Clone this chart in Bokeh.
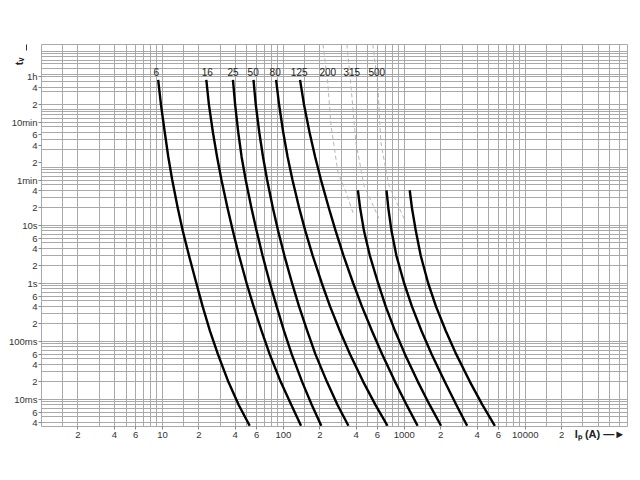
import numpy as np
from bokeh.plotting import figure
from bokeh.models import (FixedTicker, Arrow, NormalHead, Range1d)
from bokeh.core.properties import value
from bokeh.embed import file_html
from bokeh.resources import INLINE

# ---------------- data ----------------
ratings = ["6", "16", "25", "50", "80", "125", "200", "315", "500"]

# pre-arcing times (s) at which the curves were read
t_full = [3200, 1200, 400, 150, 60, 20, 8, 3, 1, 0.4, 0.15, 0.06, 0.02, 0.008, 0.0035]
# times (s) for the solid lower part of the 200/315/500 curves
t_low = [40, 20, 8, 3, 1, 0.4, 0.15, 0.06, 0.02, 0.008, 0.0035]

# prospective current (A) read at those times
i_6 = [9.22, 9.72, 10.45, 11.18, 12.05, 13.37, 14.72, 16.57, 19.07, 21.49, 24.73, 28.73, 35.07, 42.73, 52.65]
i_16 = [23.05, 24.22, 26.13, 28.30, 30.77, 34.48, 38.20, 42.97, 49.65, 56.70, 66.11, 76.96, 95.01, 116.4, 139.9]
i_25 = [38.27, 39.90, 42.33, 45.14, 48.80, 54.37, 60.02, 67.24, 77.40, 87.90, 101.3, 117.1, 142.9, 171.8, 205.8]
i_50 = [56.59, 59.11, 63.17, 67.88, 73.39, 81.78, 90.44, 101.9, 118.0, 134.7, 157.7, 183.9, 229.2, 280.4, 344.8]
i_80 = [87.06, 92.09, 99.66, 108.4, 118.9, 134.9, 151.8, 174.6, 207.8, 243.0, 293.3, 355.6, 457.3, 576.9, 725.4]
i_125 = [137.3, 148.0, 164.4, 183.1, 204.7, 237.2, 270.4, 314.1, 377.6, 445.8, 540.3, 655.2, 838.2, 1044, 1287]
i_200 = [413.0, 430.6, 463.6, 518.6, 607.0, 701.3, 838.2, 1011, 1295, 1620, 2011]
i_315 = [711.9, 736.7, 782.9, 859.4, 996.2, 1155, 1387, 1682, 2161, 2693, 3306]
i_500 = [1108, 1155, 1244, 1365, 1574, 1826, 2203, 2683, 3487, 4421, 5604]

# faint dashed upper parts of 200 / 315 / 500
d200_i = [212.5, 233.6, 247.3, 282.4, 328.8, 382.7]
d200_t = [13000, 2605, 532, 82.1, 37.1, 14.9]
d315_i = [335.1, 361.4, 397.5, 462.9, 615.2]
d315_t = [13000, 2605, 271, 49.0, 13.2]
d500_i = [548.9, 603.6, 638.9, 743.6, 1027]
d500_t = [13000, 2605, 271, 49.0, 11.3]

# curve label positions
label_x = [8.9, 23.5, 38.3, 56.2, 85.5, 135, 233, 368, 592]
label_t = [4400] * 9

# axis ticks
x_tick_vals = [2, 4, 6, 10, 20, 40, 60, 100, 200, 400, 600, 1000, 2000, 4000, 6000, 10000, 20000]
x_tick_text = ["2", "4", "6", "10", "2", "4", "6", "100", "2", "4", "6", "1000",
               "2", "4", "6", "10000", "2"]

y_tick_vals = [3600, 2400, 1200, 600, 360, 240, 120, 60, 40, 20, 10, 6, 4, 2, 1,
               0.6, 0.4, 0.2, 0.1, 0.06, 0.04, 0.02, 0.01, 0.006, 0.004]
y_tick_text = ["1h", "4", "2", "10min", "6", "4", "2", "1min", "4", "2", "10s", "6", "4", "2",
               "1s", "6", "4", "2", "100ms", "6", "4", "2", "10ms", "6", "4"]

# grid subdivisions
x_grid_mult = [1, 1.5, 2, 3, 4, 5, 6, 7, 8, 9]
x_grid_decades = [1, 10, 100, 1000, 10000]
y_grid_mult = [1, 2, 3, 4, 5, 6, 7, 8, 9]
y_grid_decades = [0.001, 0.01, 0.1, 1, 10, 100, 1000, 10000]
y_grid_extra = [1200, 2400, 3600]

grid_x = [m * d for d in x_grid_decades for m in x_grid_mult if m * d <= 70000]
grid_y = [m * d for d in y_grid_decades for m in y_grid_mult] + y_grid_extra

# ---------------- figure ----------------
FONT = "Liberation Sans"
GRID = "#a9a9a9"
TXT = "#333333"

p = figure(width=632, height=472, x_axis_type="log", y_axis_type="log",
           x_range=Range1d(1, 7e4), y_range=Range1d(0.0034, 13000),
           output_backend="svg", toolbar_location=None,
           min_border_left=41, min_border_right=5, min_border_top=44, min_border_bottom=46)
p.outline_line_color = GRID
p.background_fill_color = "white"
p.border_fill_color = "white"

p.xgrid.ticker = FixedTicker(ticks=grid_x)
p.ygrid.ticker = FixedTicker(ticks=grid_y)
for g in (p.xgrid, p.ygrid):
    g.grid_line_color = GRID
    g.grid_line_width = 1

# bottom axis
p.xaxis.ticker = FixedTicker(ticks=x_tick_vals, minor_ticks=[])
p.xaxis.major_label_overrides = dict(zip(x_tick_vals, x_tick_text))
p.xaxis.major_tick_out = 3
p.xaxis.major_label_standoff = 2

# left axis
p.yaxis.ticker = FixedTicker(ticks=y_tick_vals, minor_ticks=[])
p.yaxis.major_label_overrides = dict(zip(y_tick_vals, y_tick_text))
p.yaxis.major_tick_out = 3
p.yaxis.major_label_standoff = 1

for ax in (p.xaxis, p.yaxis):
    ax.axis_line_color = None
    ax.major_tick_line_color = "#888888"
    ax.major_tick_in = 0
    ax.minor_tick_line_color = None
    ax.major_label_text_font = FONT
    ax.major_label_text_font_size = "9.5px"
    ax.major_label_text_color = TXT
    ax.axis_label_text_font = FONT
    ax.axis_label_text_font_style = "bold"
    ax.axis_label_text_font_size = "11px"
    ax.axis_label_text_color = "#222222"

# axis titles at the far ends of the axes (the label is centred on the axis end,
# trailing blanks move the visible text inward)
p.xaxis.axis_label = "I\u209a (A) \u2014\u25ba" + " " * 18
p.xaxis.axis_label_standoff = -13
p.yaxis.axis_label = "t\u1d65" + " " * 11
p.yaxis.axis_label_standoff = -19
for ax in (p.xaxis, p.yaxis):
    for al in ("end", "right"):
        try:
            ax.axis_label_align = al
            break
        except Exception as e:
            print("axis_label_align failed:", al, e)

# arrow head above the time-axis title (canvas units)
p.add_layout(Arrow(x_start=26, y_start=60, x_end=26, y_end=44,
                   start_units="canvas", end_units="canvas",
                   line_color=TXT, line_width=1,
                   end=NormalHead(size=6, fill_color=TXT, line_color=TXT)))

# dashed faint curves
for xi, ti in ((d200_i, d200_t), (d315_i, d315_t), (d500_i, d500_t)):
    p.line(xi, ti, line_color="#b5b5b5", line_width=1, line_dash="4 3")

# solid fuse curves
for xi in (i_6, i_16, i_25, i_50, i_80, i_125):
    p.line(xi, t_full, line_color="black", line_width=2.4, line_join="round")
for xi in (i_200, i_315, i_500):
    p.line(xi, t_low, line_color="black", line_width=2.4, line_join="round")

# curve labels
p.text(x=label_x, y=label_t, text=ratings, text_font=value(FONT), text_font_size="10px",
       text_align="center", text_baseline="middle", text_color="#222222")

open("out.html", "w").write(file_html(p, INLINE))
